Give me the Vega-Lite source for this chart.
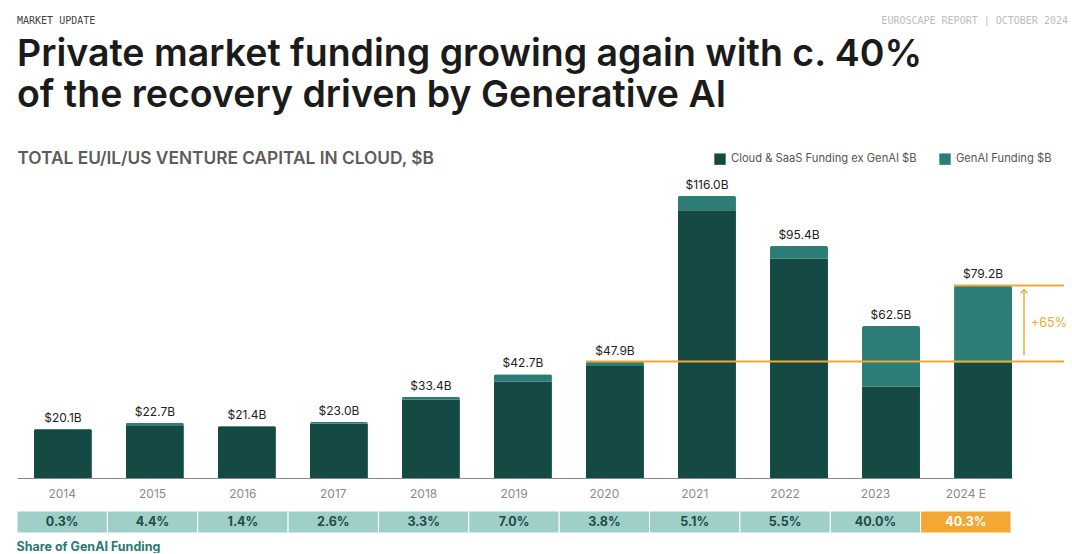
{
  "$schema": "https://vega.github.io/schema/vega-lite/v6.json",
  "background": "white",
  "padding": {"left": 16, "top": 15, "right": 5, "bottom": 0},
  "config": {"font": "Inter", "view": {"stroke": null}, "axis": {"grid": false}},
  "spacing": 9,
  "resolve": {"scale": {"x": "independent", "color": "independent"}, "axis": {"x": "independent"}},
  "datasets": {
    "header": [
      {"side": "left", "t": "MARKET UPDATE"},
      {"side": "right", "t": "EUROSCAPE REPORT | OCTOBER 2024"}
    ],
    "bars": [
      {"year": "2014", "type": "Cloud & SaaS Funding ex GenAI $B", "value": 20.04},
      {"year": "2014", "type": "GenAI Funding $B", "value": 0.06},
      {"year": "2015", "type": "Cloud & SaaS Funding ex GenAI $B", "value": 21.7},
      {"year": "2015", "type": "GenAI Funding $B", "value": 1.0},
      {"year": "2016", "type": "Cloud & SaaS Funding ex GenAI $B", "value": 21.1},
      {"year": "2016", "type": "GenAI Funding $B", "value": 0.3},
      {"year": "2017", "type": "Cloud & SaaS Funding ex GenAI $B", "value": 22.4},
      {"year": "2017", "type": "GenAI Funding $B", "value": 0.6},
      {"year": "2018", "type": "Cloud & SaaS Funding ex GenAI $B", "value": 32.3},
      {"year": "2018", "type": "GenAI Funding $B", "value": 1.1},
      {"year": "2019", "type": "Cloud & SaaS Funding ex GenAI $B", "value": 39.7},
      {"year": "2019", "type": "GenAI Funding $B", "value": 3.0},
      {"year": "2020", "type": "Cloud & SaaS Funding ex GenAI $B", "value": 46.1},
      {"year": "2020", "type": "GenAI Funding $B", "value": 1.8},
      {"year": "2021", "type": "Cloud & SaaS Funding ex GenAI $B", "value": 110.1},
      {"year": "2021", "type": "GenAI Funding $B", "value": 5.9},
      {"year": "2022", "type": "Cloud & SaaS Funding ex GenAI $B", "value": 90.2},
      {"year": "2022", "type": "GenAI Funding $B", "value": 5.2},
      {"year": "2023", "type": "Cloud & SaaS Funding ex GenAI $B", "value": 37.5},
      {"year": "2023", "type": "GenAI Funding $B", "value": 25.0},
      {"year": "2024 E", "type": "Cloud & SaaS Funding ex GenAI $B", "value": 47.3},
      {"year": "2024 E", "type": "GenAI Funding $B", "value": 31.9}
    ],
    "totals": [
      {"year": "2014", "total": 20.1, "label": "$20.1B", "share": "0.3%"},
      {"year": "2015", "total": 22.7, "label": "$22.7B", "share": "4.4%"},
      {"year": "2016", "total": 21.4, "label": "$21.4B", "share": "1.4%"},
      {"year": "2017", "total": 23.0, "label": "$23.0B", "share": "2.6%"},
      {"year": "2018", "total": 33.4, "label": "$33.4B", "share": "3.3%"},
      {"year": "2019", "total": 42.7, "label": "$42.7B", "share": "7.0%"},
      {"year": "2020", "total": 47.9, "label": "$47.9B", "share": "3.8%"},
      {"year": "2021", "total": 116.0, "label": "$116.0B", "share": "5.1%"},
      {"year": "2022", "total": 95.4, "label": "$95.4B", "share": "5.5%"},
      {"year": "2023", "total": 62.5, "label": "$62.5B", "share": "40.0%"},
      {"year": "2024 E", "total": 79.2, "label": "$79.2B", "share": "40.3%"}
    ],
    "refs": [
      {"from": "2020", "level": 47.9},
      {"from": "2024 E", "level": 79.2}
    ],
    "arrow": [
      {"year": "2024 E", "lo": 50.5, "hi": 76.8, "mid": 63.6, "note": "+65%"}
    ]
  },
  "vconcat": [
    {
      "width": 1051,
      "height": 11,
      "data": {"name": "header"},
      "encoding": {
        "x": {"field": "side", "type": "nominal", "scale": {"type": "point", "domain": ["left", "right"], "padding": 0}, "axis": null},
        "text": {"field": "t"}
      },
      "layer": [
        {
          "transform": [{"filter": "datum.side === 'left'"}],
          "mark": {"type": "text", "align": "left", "baseline": "middle", "font": "DejaVu Sans Mono", "fontSize": 10, "color": "#444444"}
        },
        {
          "transform": [{"filter": "datum.side === 'right'"}],
          "mark": {"type": "text", "align": "right", "baseline": "middle", "font": "DejaVu Sans Mono", "fontSize": 10, "color": "#bbbbbb"}
        }
      ]
    },
    {
      "width": 995,
      "height": 304,
      "title": {
        "text": ["Private market funding growing again with c. 40%", "of the recovery driven by Generative AI"],
        "anchor": "start",
        "font": "Inter",
        "fontSize": 37.5,
        "fontWeight": 600,
        "color": "#1b1b1b",
        "lineHeight": 41,
        "offset": 35
      },
      "layer": [
        {
          "data": {"name": "bars"},
          "mark": {"type": "bar", "cornerRadiusTopLeft": 2, "cornerRadiusTopRight": 2},
          "encoding": {
            "x": {
              "field": "year", "type": "ordinal", "sort": null,
              "scale": {"paddingInner": 0.37, "paddingOuter": 0.092, "align": 1},
              "axis": {"labels": false, "ticks": false, "title": null, "domainColor": "#8a8a8a", "domainWidth": 1}
            },
            "y": {
              "field": "value", "type": "quantitative", "stack": "zero",
              "scale": {"domain": [0, 125], "nice": false},
              "axis": {
                "labels": false, "ticks": false, "domain": false, "grid": false,
                "title": "TOTAL EU/IL/US VENTURE CAPITAL IN CLOUD, $B",
                "titleAngle": 0, "titleAlign": "left", "titleBaseline": "middle",
                "titleX": 0, "titleY": -16,
                "titleFont": "Inter", "titleFontSize": 17.3, "titleFontWeight": 600, "titleColor": "#5c5c5c"
              }
            },
            "order": {"field": "type", "sort": "ascending"},
            "color": {
              "field": "type", "type": "nominal",
              "scale": {"domain": ["Cloud & SaaS Funding ex GenAI $B", "GenAI Funding $B"], "range": ["#154a44", "#2c7d75"]},
              "legend": {
                "orient": "none", "legendX": 697, "legendY": -21, "direction": "horizontal", "title": null,
                "symbolType": "square", "symbolSize": 130, "symbolStrokeWidth": 0,
                "labelFont": "Inter", "labelFontSize": 11.2, "labelColor": "#555555", "labelLimit": 400,
                "columnPadding": 22, "labelOffset": 5
              }
            }
          }
        },
        {
          "data": {"name": "totals"},
          "mark": {"type": "text", "baseline": "bottom", "dy": -4, "fontSize": 12, "color": "#222222"},
          "encoding": {
            "x": {"field": "year", "type": "ordinal", "sort": null},
            "y": {"field": "total", "type": "quantitative"},
            "text": {"field": "label"}
          }
        },
        {
          "data": {"name": "refs"},
          "mark": {"type": "rule", "color": "#f2a832", "strokeWidth": 2, "x2Offset": 52},
          "encoding": {
            "x": {"field": "from", "type": "ordinal", "bandPosition": 0},
            "x2": {"datum": "2024 E", "bandPosition": 1},
            "y": {"field": "level", "type": "quantitative"}
          }
        },
        {
          "data": {"name": "arrow"},
          "mark": {"type": "rule", "color": "#f2a832", "strokeWidth": 1.5, "xOffset": 12},
          "encoding": {
            "x": {"field": "year", "type": "ordinal", "bandPosition": 1},
            "y": {"field": "lo", "type": "quantitative"},
            "y2": {"field": "hi"}
          }
        },
        {
          "data": {"name": "arrow"},
          "mark": {"type": "point", "shape": "M-1,0.6L0,-0.4L1,0.6", "filled": false, "size": 50, "color": "#f2a832", "strokeWidth": 1.5, "opacity": 1, "xOffset": 12},
          "encoding": {
            "x": {"field": "year", "type": "ordinal", "bandPosition": 1},
            "y": {"field": "hi", "type": "quantitative"}
          }
        },
        {
          "data": {"name": "arrow"},
          "mark": {"type": "text", "align": "center", "fontSize": 12.5, "color": "#f2a832", "xOffset": 37},
          "encoding": {
            "x": {"field": "year", "type": "ordinal", "bandPosition": 1},
            "y": {"field": "mid", "type": "quantitative"},
            "text": {"field": "note"}
          }
        }
      ]
    },
    {
      "width": 994,
      "height": 22,
      "data": {"name": "totals"},
      "title": {"text": "Share of GenAI Funding", "orient": "bottom", "anchor": "start", "font": "Inter", "fontSize": 12.5, "fontWeight": "bold", "color": "#2b7a71", "offset": 7},
      "encoding": {
        "x": {
          "field": "year", "type": "ordinal", "sort": null,
          "scale": {"paddingInner": 0, "paddingOuter": 0},
          "axis": {"orient": "top", "ticks": false, "domain": false, "labelPadding": 11, "labelFontSize": 12, "labelColor": "#8a8a8a", "labelAngle": 0, "title": null}
        }
      },
      "layer": [
        {
          "mark": {"type": "bar", "stroke": "white", "strokeWidth": 1},
          "encoding": {
            "color": {"condition": {"test": "datum.year === '2024 E'", "value": "#f2a832"}, "value": "#9ecfc8"}
          }
        },
        {
          "mark": {"type": "text", "fontWeight": "bold", "fontSize": 12.5},
          "encoding": {
            "text": {"field": "share"},
            "color": {"condition": {"test": "datum.year === '2024 E'", "value": "white"}, "value": "#1f4a45"}
          }
        }
      ]
    }
  ]
}
